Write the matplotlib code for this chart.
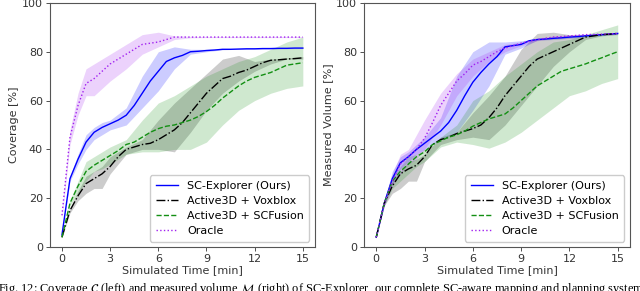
import numpy as np
import matplotlib
matplotlib.use("Agg")
import matplotlib.pyplot as plt

# time axis for the mean curves and for the spread bands [min]
t = np.arange(0, 15.5, 0.5)
tb = [0, 0.5, 1, 1.5, 2, 2.5, 3, 4, 5, 6, 7, 8, 9, 10, 11, 12, 13, 14, 15]

# ---------------- Coverage (left) ----------------
cov_sc = [5, 28, 36, 43, 47, 49, 50.5, 52, 54, 58, 63, 68, 72, 76, 77.5, 78.5,
          80, 80.2, 80.5, 80.7, 81, 81, 81.1, 81.2, 81.2, 81.3, 81.3, 81.4, 81.4, 81.5, 81.5]
cov_sc_hi = [5, 29, 38, 46, 49, 51, 52, 57, 70, 80, 82, 81, 81, 81.2, 81.3, 81.4, 81.5, 81.6, 81.6]
cov_sc_lo = [5, 27, 34, 40, 44, 46, 48, 50, 57, 64, 73, 79, 80, 80.8, 81, 81, 81.1, 81.2, 81.3]

cov_vox = [4, 15, 21, 26, 28, 30, 33, 37, 40, 41, 42, 42.5, 44, 46, 48, 51,
           55, 59, 63, 66, 69, 70, 71.5, 72.5, 74, 75.5, 76.5, 76.7, 77, 77.2, 77.5]
cov_vox_hi = [4, 16, 23, 29, 31, 33, 37, 41, 44, 52, 59, 65, 71, 77, 78.5, 76, 77, 77.5, 78]
cov_vox_lo = [4, 14, 19, 22, 24, 24, 30, 38, 40, 40, 39, 47, 56, 63, 68, 72, 75, 77, 77]

cov_scf = [4, 18, 25, 31, 33.5, 35.5, 37.5, 39.5, 42, 43, 45, 47, 48.5, 49.5, 50, 51,
           52, 53.5, 55.5, 58, 61, 63.5, 66, 68, 69.5, 70.5, 71.5, 73, 74.5, 75, 75.5]
cov_scf_hi = [4, 19, 27, 35, 37, 39, 41, 44, 52, 59, 62, 66, 70, 73, 76, 78, 81, 84, 86]
cov_scf_lo = [4, 17, 22, 27, 31, 32, 34, 38, 39, 39, 40, 40, 43, 50, 56, 60, 63, 65, 66]

cov_or = [13, 45, 58, 67, 69, 72, 75, 77, 79, 81, 83, 83.5, 84, 85, 86, 86,
          86, 86, 86, 86, 86, 86, 86, 86, 86, 86, 86, 86, 86, 86, 86]
cov_or_hi = [14, 48, 63, 73, 75, 77, 79, 83, 87, 88, 86.5, 86.3, 86.2, 86.2, 86.2, 86.2, 86.2, 86.2, 86.2]
cov_or_lo = [12, 42, 54, 62, 62, 65, 68, 73, 79, 82, 85, 85.7, 85.8, 85.8, 85.8, 85.8, 85.8, 85.8, 85.8]

# ---------------- Measured volume (right) ----------------
vol_sc = [4, 18, 28, 34.5, 37, 40, 42.5, 45, 47.5, 51, 56, 62, 67.5, 71.5, 75, 78,
          82, 82.5, 83, 84.5, 85, 85.2, 85.5, 85.7, 86, 86.2, 86.5, 86.7, 87, 87.2, 87.5]
vol_sc_hi = [4, 19, 31, 37, 39, 42, 45, 53, 70, 80, 84, 84, 84.5, 85.3, 86, 86.5, 87, 87.4, 87.8]
vol_sc_lo = [4, 17, 26, 32, 35, 38, 40, 44, 47, 56, 66, 79, 81.5, 84.7, 85, 85.5, 86, 86.6, 87.2]

vol_vox = [4, 18, 25, 30, 32, 33.5, 37, 42, 44, 45, 46.5, 47.5, 48.5, 50, 53, 57,
           62, 66, 70, 74, 77, 78.5, 80, 81.5, 83, 84.5, 86, 86.5, 87, 87.2, 87.5]
vol_vox_hi = [4, 19, 27, 31, 35, 36, 38, 45, 47, 55, 62, 70, 81, 87.5, 88, 87, 87, 87.3, 87.6]
vol_vox_lo = [4, 17, 22, 24, 27, 27, 35, 42, 44, 45, 44, 50, 58, 66, 74, 80, 85, 86.5, 87]

vol_scf = [4, 18, 27, 31, 34, 37, 39, 42, 43.5, 45, 46, 47.5, 49.5, 51, 52.5, 53.5,
           54.5, 57, 60, 63, 66, 68, 70, 72, 73, 74, 75, 76.3, 77.5, 78.8, 80]
vol_scf_hi = [4, 19, 29, 33, 37, 38, 40, 45, 50, 60, 64, 70, 75, 80, 84, 85, 87, 89, 91]
vol_scf_lo = [4, 17, 24, 27, 30, 33, 35, 41, 43, 42, 40.5, 43, 47, 52, 57, 62, 64, 67, 69]

vol_or = [4, 18, 27, 34, 37, 40, 44.5, 51, 58, 63, 68, 71, 74.5, 76, 78, 80,
          81.5, 82.5, 83.5, 84.3, 85, 85.5, 86, 86.2, 86.5, 86.7, 87, 87.1, 87.2, 87.3, 87.5]
vol_or_hi = [4, 19, 30, 38, 40, 46, 52, 63, 71, 77, 80, 83, 84, 85.5, 86.5, 87, 87.3, 87.5, 87.8]
vol_or_lo = [4, 17, 25, 30, 34, 36, 40, 50, 62, 70, 76, 80, 82.5, 84.5, 85.5, 86, 86.7, 87, 87.2]

labels = ["SC-Explorer (Ours)", "Active3D + Voxblox", "Active3D + SCFusion", "Oracle"]
colors = ["#0000ff", "#000000", "#138f13", "#a020f0"]
styles = ["-", "-.", "--", ":"]

left = [(cov_sc, cov_sc_lo, cov_sc_hi), (cov_vox, cov_vox_lo, cov_vox_hi),
        (cov_scf, cov_scf_lo, cov_scf_hi), (cov_or, cov_or_lo, cov_or_hi)]
right = [(vol_sc, vol_sc_lo, vol_sc_hi), (vol_vox, vol_vox_lo, vol_vox_hi),
         (vol_scf, vol_scf_lo, vol_scf_hi), (vol_or, vol_or_lo, vol_or_hi)]

plt.rcParams["mathtext.fontset"] = "stix"

fig = plt.figure(figsize=(6.4, 2.91), dpi=100)
ax1 = fig.add_axes([0.078, 0.151, 0.414, 0.839])
ax2 = fig.add_axes([0.569, 0.151, 0.415, 0.839])

for ax, series, ylab in [(ax1, left, "Coverage [%]"), (ax2, right, "Measured Volume [%]")]:
    for (m, lo, hi), lab, c, ls in zip(series, labels, colors, styles):
        ax.fill_between(tb, lo, hi, color=c, alpha=0.2, lw=0)
        ax.plot(t, m, color=c, ls=ls, lw=1.0, label=lab)
    ax.set_xlim(-0.75, 15.75)
    ax.set_ylim(0, 100)
    ax.set_xticks([0, 3, 6, 9, 12, 15])
    ax.set_yticks([0, 20, 40, 60, 80, 100])
    ax.tick_params(labelsize=8, length=3, width=0.6, pad=2, colors="#333333")
    for s in ax.spines.values():
        s.set_color("#555555")
        s.set_linewidth(0.8)
    ax.set_xlabel("Simulated Time [min]", fontsize=8, labelpad=1, color="#333333")
    ax.set_ylabel(ylab, fontsize=8, labelpad=2, color="#333333")
    ax.legend(loc="lower right", fontsize=8, handlelength=2.0, borderpad=0.5,
              labelspacing=0.45, framealpha=1.0, edgecolor="#cccccc")

fig.text(-0.003, 0.033,
         r"Fig. 12: Coverage $\mathcal{C}$ (left) and measured volume $\mathcal{M}$ (right) of SC-Explorer, "
         "our complete SC-aware mapping and planning system",
         family="Liberation Serif", fontsize=8.9, va="top", ha="left")

fig.savefig("out.png", dpi=100)
